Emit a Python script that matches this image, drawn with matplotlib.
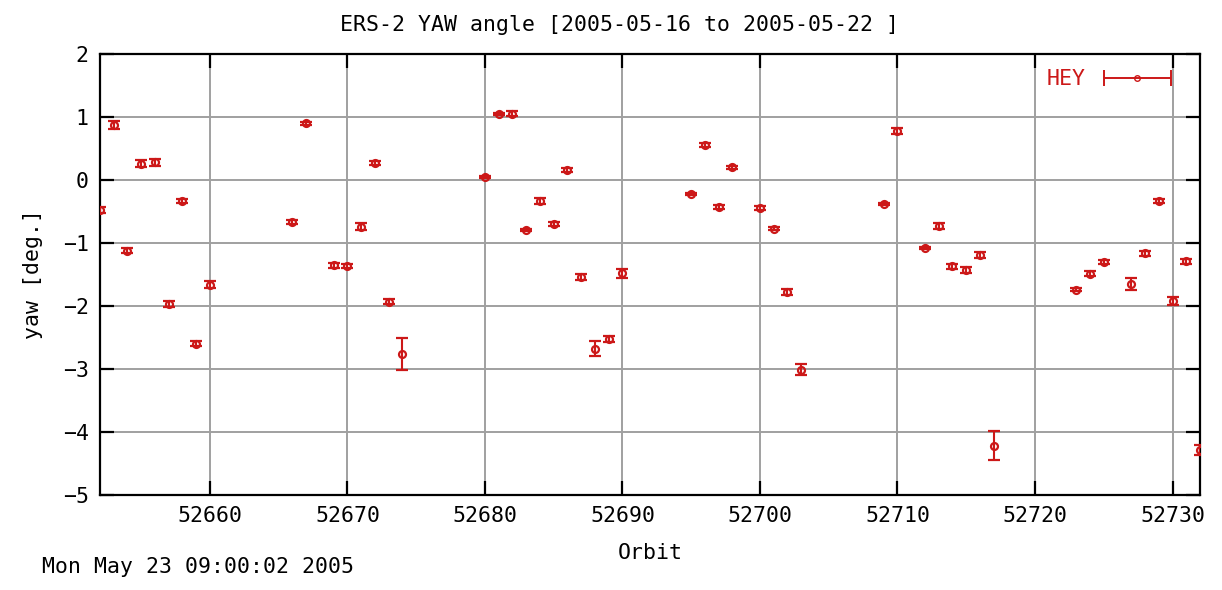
import matplotlib.pyplot as plt
from matplotlib.legend_handler import HandlerErrorbar
import numpy as np

# orbit numbers, yaw angle [deg] and error
orbit = [52652, 52653, 52654, 52655, 52656, 52657, 52658, 52659, 52660,
         52666, 52667, 52669, 52670, 52671, 52672, 52673, 52674,
         52680, 52681, 52682, 52683, 52684, 52685, 52686, 52687, 52688, 52689, 52690,
         52695, 52696, 52697, 52698, 52700, 52701, 52702, 52703,
         52709, 52710, 52712, 52713, 52714, 52715, 52716, 52717,
         52723, 52724, 52725, 52727, 52728, 52729, 52730, 52731, 52732]
yaw = [-0.48, 0.87, -1.12, 0.26, 0.28, -1.97, -0.33, -2.60, -1.66,
       -0.67, 0.90, -1.35, -1.36, -0.74, 0.27, -1.93, -2.76,
       0.05, 1.05, 1.05, -0.79, -0.33, -0.70, 0.16, -1.54, -2.68, -2.52, -1.48,
       -0.22, 0.56, -0.43, 0.20, -0.45, -0.77, -1.78, -3.01,
       -0.38, 0.78, -1.08, -0.73, -1.37, -1.43, -1.19, -4.22,
       -1.74, -1.49, -1.30, -1.65, -1.16, -0.33, -1.92, -1.29, -4.28]
err = [0.05, 0.06, 0.04, 0.06, 0.06, 0.05, 0.03, 0.04, 0.06,
       0.03, 0.02, 0.04, 0.03, 0.05, 0.03, 0.04, 0.25,
       0.02, 0.02, 0.04, 0.02, 0.05, 0.03, 0.03, 0.04, 0.12, 0.05, 0.07,
       0.02, 0.03, 0.03, 0.02, 0.03, 0.03, 0.05, 0.09,
       0.02, 0.05, 0.02, 0.05, 0.04, 0.05, 0.05, 0.23,
       0.02, 0.04, 0.03, 0.09, 0.04, 0.03, 0.07, 0.04, 0.08]

red = '#cc1818'
mono = 'DejaVu Sans Mono'
fs = 15.5

fig = plt.figure(figsize=(12.22, 5.90), dpi=100)
ax = fig.add_axes([0.0818, 0.161, 0.9002, 0.7475])

ax.errorbar(orbit, yaw, yerr=err, fmt='o', ms=5, mfc='none', mec=red, mew=1.6,
            ecolor=red, elinewidth=1.5, capsize=4.5, capthick=1.6, color=red, zorder=3)
# legend sample (gnuplot draws the key with a horizontal bar); NaN point is not drawn
key = ax.errorbar([np.nan], [np.nan], xerr=[1.0], fmt='o', ms=4, mfc='none', mec=red,
                  ecolor=red, elinewidth=1.4, capsize=6, capthick=1.4, color=red,
                  label='HEY')

ax.set_xlim(52652, 52732)
ax.set_ylim(-5, 2)
ax.set_xticks(np.arange(52660, 52731, 10))
ax.set_yticks(np.arange(-5, 3, 1))
ax.grid(True, color='#a0a0a0', lw=1.4)
ax.set_axisbelow(True)
for s in ax.spines.values():
    s.set_linewidth(1.6)
ax.tick_params(direction='in', length=10, width=1.6, top=True, right=True,
               labelsize=fs, pad=8)
for lbl in ax.get_xticklabels() + ax.get_yticklabels():
    lbl.set_family(mono)

ax.set_xlabel('Orbit', family=mono, fontsize=fs, labelpad=12)
ax.set_ylabel('yaw [deg.]', family=mono, fontsize=fs, labelpad=14)
fig.text(0.507, 0.975, 'ERS-2 YAW angle [2005-05-16 to 2005-05-22 ]', family=mono,
         fontsize=fs, ha='center', va='top')
fig.text(0.034, 0.022, 'Mon May 23 09:00:02 2005', family=mono, fontsize=fs,
         ha='left', va='bottom')

leg = ax.legend(handles=[key], loc='upper right', frameon=False, markerfirst=False,
                handlelength=3.4, handletextpad=0.7, prop={'family': mono, 'size': fs},
                labelcolor=red, borderaxespad=0.3, bbox_to_anchor=(0.99, 1.0),
                handler_map={type(key): HandlerErrorbar(xerr_size=1.55)})

fig.savefig('out.png', dpi=100)
